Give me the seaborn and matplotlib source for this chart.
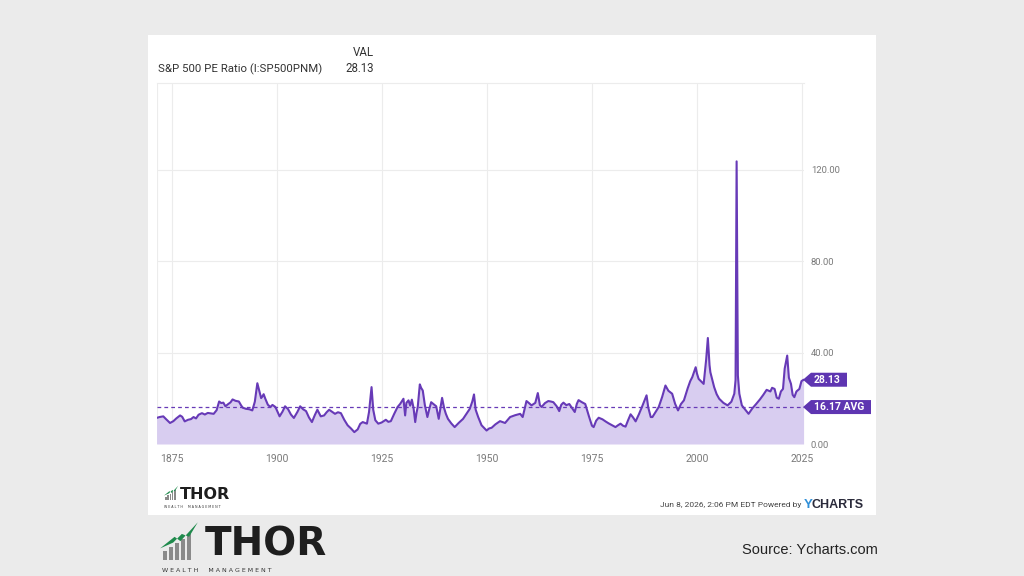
import matplotlib
matplotlib.use("Agg")
import matplotlib.pyplot as plt
import matplotlib.transforms as mtransforms
from matplotlib.patches import Rectangle, Polygon
import seaborn as sns
import pandas as pd

# ---------------- data ----------------
years = [1871.3, 1872.0, 1872.9, 1873.6, 1874.5, 1875.3, 1876.0, 1876.9, 1877.4, 1878.0,
         1878.8, 1879.5, 1880.1, 1880.7, 1881.3, 1882.1, 1882.8, 1883.5, 1884.2, 1884.9,
         1885.6, 1886.2, 1886.7, 1887.2, 1887.7, 1888.3, 1888.9, 1889.4, 1890.1, 1890.9,
         1891.4, 1891.8, 1892.6, 1893.4, 1894.1, 1894.7, 1895.3, 1895.8, 1896.2, 1896.5,
         1896.8, 1897.2, 1897.8, 1898.4, 1898.9, 1899.6, 1900.0, 1900.6, 1901.3, 1901.9,
         1902.6, 1903.3, 1904.0, 1904.8, 1905.5, 1906.2, 1906.9, 1907.6, 1908.3, 1909.0,
         1909.6, 1910.4, 1911.2, 1911.8, 1912.4, 1913.1, 1913.8, 1914.5, 1915.2, 1916.0,
         1916.8, 1917.6, 1918.4, 1919.2, 1919.8, 1920.4, 1921.4, 1921.9, 1922.5, 1922.9,
         1923.4, 1924.1, 1924.9, 1925.9, 1926.5, 1927.1, 1927.9, 1928.7, 1929.3, 1929.8,
         1930.1, 1930.5, 1930.8, 1931.3, 1931.7, 1932.1, 1932.5, 1932.9, 1933.2, 1933.5,
         1934.0, 1934.3, 1934.7, 1935.2, 1935.8, 1936.2, 1936.7, 1937.3, 1937.9, 1938.5,
         1939.3, 1939.8, 1940.2, 1940.7, 1941.5, 1942.3, 1943.3, 1944.3, 1945.1, 1945.9,
         1946.5, 1946.9, 1947.3, 1947.9, 1948.7, 1949.9, 1950.5, 1951.1, 1952.0, 1953.1,
         1954.3, 1955.5, 1956.7, 1957.9, 1958.5, 1959.4, 1960.0, 1960.6, 1961.5, 1962.1,
         1962.6, 1963.0, 1963.8, 1964.6, 1965.2, 1965.8, 1966.6, 1967.2, 1967.7, 1968.2,
         1968.9, 1969.6, 1970.3, 1970.9, 1971.4, 1971.8, 1972.6, 1973.4, 1974.3, 1975.0,
         1975.4, 1976.0, 1976.6, 1977.5, 1978.3, 1979.0, 1979.8, 1980.6, 1981.2, 1981.8,
         1982.4, 1983.0, 1983.6, 1984.2, 1984.8, 1985.4, 1986.2, 1986.9, 1987.5, 1988.0,
         1988.4, 1989.0, 1989.4, 1990.2, 1990.9, 1991.7, 1992.5, 1993.2, 1994.1, 1994.8,
         1995.5, 1996.2, 1996.9, 1997.8, 1998.4, 1998.9, 1999.7, 2000.0, 2000.4, 2001.0,
         2001.6, 2002.2, 2002.6, 2003.0, 2003.2, 2003.6, 2004.1, 2004.7, 2005.3, 2006.3,
         2007.3, 2008.2, 2008.9, 2009.2, 2009.45, 2009.75, 2010.1, 2010.7, 2011.3, 2012.3,
         2013.2, 2014.1, 2015.0, 2015.8, 2016.6, 2017.5, 2017.9, 2018.5, 2019.0, 2019.5,
         2020.0, 2020.5, 2020.9, 2021.5, 2021.9, 2022.4, 2022.8, 2023.2, 2023.7, 2024.4,
         2024.9, 2025.4]
pe_ratio = [11.4, 11.8, 12.1, 10.8, 9.2, 10.0, 11.2, 12.5, 11.9, 9.9,
            10.6, 10.9, 11.8, 11.2, 12.8, 13.5, 12.9, 13.6, 13.4, 13.2,
            14.8, 18.6, 17.9, 18.1, 16.5, 17.4, 18.2, 19.5, 18.9, 18.6,
            17.0, 15.9, 15.4, 15.2, 14.7, 18.5, 26.6, 23.0, 20.1, 20.8,
            21.8, 19.8, 17.2, 16.2, 17.1, 16.2, 14.6, 12.1, 14.2, 16.5,
            15.3, 12.9, 11.4, 13.9, 16.5, 15.2, 14.4, 11.6, 9.6, 12.7,
            15.0, 12.1, 12.5, 13.9, 15.0, 14.1, 13.2, 13.9, 13.5, 10.6,
            8.2, 6.8, 5.2, 6.4, 8.8, 9.6, 8.9, 14.0, 24.9, 15.0,
            10.4, 8.9, 9.4, 10.6, 9.7, 10.0, 13.2, 16.2, 17.5, 18.9,
            19.8, 12.5, 18.0, 19.1, 16.8, 19.4, 15.8, 9.6, 13.5, 16.2,
            26.1, 24.6, 23.4, 17.0, 11.8, 14.9, 18.3, 17.4, 16.5, 11.0,
            20.2, 15.6, 13.2, 11.0, 9.0, 7.4, 9.3, 11.0, 13.2, 15.4,
            18.6, 21.7, 15.0, 11.8, 8.2, 5.9, 6.8, 7.1, 8.6, 10.0,
            9.2, 11.8, 12.6, 13.2, 11.8, 18.8, 17.9, 16.9, 18.0, 22.3,
            17.0, 16.2, 17.9, 18.8, 18.6, 18.3, 16.5, 14.4, 17.2, 18.1,
            17.0, 17.5, 15.6, 14.0, 17.6, 19.2, 18.3, 17.5, 12.0, 8.0,
            7.4, 10.2, 11.5, 10.8, 9.8, 9.0, 8.2, 7.4, 8.2, 8.9,
            8.0, 7.6, 10.4, 13.0, 11.6, 9.9, 13.1, 16.2, 19.0, 21.3,
            16.0, 11.8, 11.8, 14.1, 16.2, 20.5, 25.6, 23.3, 22.0, 17.6,
            14.7, 17.5, 19.1, 24.4, 27.5, 29.3, 33.6, 30.9, 28.5, 27.4,
            26.3, 37.0, 46.4, 34.5, 31.4, 28.5, 24.9, 21.8, 19.8, 18.0,
            16.9, 18.5, 22.0, 28.0, 123.7, 30.0, 22.0, 16.9, 15.5, 13.2,
            15.6, 17.5, 19.5, 21.5, 23.7, 23.0, 24.6, 24.1, 20.3, 19.8,
            23.0, 24.1, 33.0, 38.7, 29.0, 26.3, 21.5, 20.5, 23.0, 24.1,
            27.5, 28.13]
latest_value = 28.13
average_value = 16.17
x_ticks = [1875, 1900, 1925, 1950, 1975, 2000, 2025]
y_ticks = [0, 40, 80, 120]
series_name = "S&P 500 PE Ratio (I:SP500PNM)"

df = pd.DataFrame({"year": years, "pe": pe_ratio})

# ---------------- styling ----------------
sns.set_theme(style="white")
plt.rcParams["font.family"] = ["Roboto", "DejaVu Sans"]

LINE = "#673ab7"
FILL = "#d8cdf0"
TAG = "#5e35b1"
GRID = "#ececec"
TICK = "#7a7a7a"

W, H = 1024, 576
fig = plt.figure(figsize=(W / 100, H / 100), dpi=100)
fig.patch.set_facecolor("#ebebeb")

# white card
card = Rectangle((148 / W, 1 - 515 / H), (876 - 148) / W, (515 - 35) / H,
                 transform=fig.transFigure, facecolor="white", edgecolor="none", zorder=-5)
fig.patches.append(card)

ax_l, ax_r, ax_t, ax_b = 157, 804, 83, 444
ax = fig.add_axes([ax_l / W, 1 - ax_b / H, (ax_r - ax_l) / W, (ax_b - ax_t) / H])
ax.set_zorder(1)
ax.set_facecolor("white")

ax.fill_between(df["year"], 0, df["pe"], color=FILL, linewidth=0, zorder=1)
sns.lineplot(data=df, x="year", y="pe", ax=ax, color=LINE, linewidth=1.5, zorder=3)
ax.axhline(average_value, color=LINE, linestyle=(0, (3, 2.5)), linewidth=0.9, zorder=2)

ax.set_xlim(1871.4, 2025.5)
ax.set_ylim(0, 158)
ax.set_xticks(x_ticks)
ax.set_xticklabels([str(t) for t in x_ticks])
ax.set_yticks(y_ticks)
ax.set_yticklabels([f"{v:.2f}" for v in y_ticks])
ax.yaxis.tick_right()
ax.tick_params(axis="x", length=0, labelsize=7.5, colors=TICK, pad=7)
ax.tick_params(axis="y", length=0, labelsize=6.8, colors=TICK, pad=5)
ax.grid(True, color=GRID, linewidth=0.8)
ax.set_axisbelow(True)
ax.set_xlabel("")
ax.set_ylabel("")
for side in ["left", "right", "bottom"]:
    ax.spines[side].set_visible(False)
ax.spines["top"].set_color(GRID)
ax.spines["top"].set_linewidth(0.8)
ax.axvline(1871.4, color=GRID, linewidth=0.8, zorder=0)

# value tags on the right
blend = mtransforms.blended_transform_factory(ax.transAxes, ax.transData)
ppx = 1.0 / (ax_r - ax_l)  # one pixel in axes fraction
dpy = 158 / (ax_b - ax_t)   # one pixel in data units


def tag(value, text, width_px):
    tip = 1.0 - 1 * ppx
    left = 1.0 + 7 * ppx
    right = left + width_px * ppx
    hh = 7 * dpy
    poly = Polygon([(tip, value), (left, value + hh), (right, value + hh),
                    (right, value - hh), (left, value - hh)], closed=True,
                   transform=blend, facecolor=TAG, edgecolor="none", clip_on=False, zorder=5)
    ax.add_patch(poly)
    ax.text(left + 3 * ppx, value, text, transform=blend, color="white", fontsize=7.5,
            fontweight="bold", ha="left", va="center", clip_on=False, zorder=6)


tag(latest_value, f"{latest_value:.2f}", 36)
tag(average_value, f"{average_value:.2f} AVG", 60)

# header
fig.text(363 / W, 1 - 52 / H, "VAL", fontsize=8.3, color="#333333", ha="center", va="center")
fig.text(158 / W, 1 - 69 / H, series_name, fontsize=8.2, color="#333333", ha="left", va="center")
fig.text(360 / W, 1 - 69 / H, f"{latest_value:.2f}", fontsize=8.3, color="#333333",
         ha="center", va="center")

# footer of card
fig.text(801 / W, 1 - 505 / H, "Jun 8, 2026, 2:06 PM EDT Powered by", fontsize=6,
         color="#444444", ha="right", va="center")
fig.text(804 / W, 1 - 505 / H, "Y", fontsize=9.5, color="#2f8fd8", fontweight="bold",
         ha="left", va="center", family=["Liberation Sans", "DejaVu Sans"])
fig.text(812 / W, 1 - 505 / H, "CHARTS", fontsize=9, color="#2a2a3a", fontweight="bold",
         ha="left", va="center", family=["Liberation Sans", "DejaVu Sans"])


def logo(x0, y0, scale, word_size, sub_size, sub_x, word_x, word_y, sub_y):
    # bars
    heights = [0.35, 0.5, 0.65, 0.8, 1.0]
    for i, h in enumerate(heights):
        fig.patches.append(Rectangle(((x0 + i * 4.2 * scale) / W, 1 - y0 / H),
                                     2.8 * scale / W, h * 18 * scale / H,
                                     transform=fig.transFigure, facecolor="#8a8a8a",
                                     edgecolor="none", zorder=2))
    pts = [(x0 - 2 * scale, y0 - 8 * scale), (x0 + 8 * scale, y0 - 16 * scale),
           (x0 + 12 * scale, y0 - 13 * scale), (x0 + 24 * scale, y0 - 26 * scale),
           (x0 + 18 * scale, y0 - 16 * scale), (x0 + 13 * scale, y0 - 18 * scale),
           (x0 + 7 * scale, y0 - 12 * scale)]
    fig.patches.append(Polygon([(px / W, 1 - py / H) for px, py in pts], closed=True,
                               transform=fig.transFigure, facecolor="#1f8a4c",
                               edgecolor="none", zorder=3))
    fig.text(word_x / W, 1 - word_y / H, "THOR", fontsize=word_size, fontweight="bold",
             color="#1e1e1e", ha="left", va="baseline", family=["DejaVu Sans"])
    fig.text(sub_x / W, 1 - sub_y / H, "W E A L T H     M A N A G E M E N T",
             fontsize=sub_size, color="#333333", ha="left", va="center",
             family=["DejaVu Sans"])


logo(165, 500, 0.55, 11.5, 2.3, 164, 180, 499, 507)
logo(163, 560, 1.45, 28, 4.5, 162, 205, 556, 570.5)

fig.text(878 / W, 1 - 550 / H, "Source: Ycharts.com", fontsize=10.5, color="#222222",
         ha="right", va="center", family=["Liberation Sans", "DejaVu Sans"])

fig.savefig("out.png", dpi=100, facecolor=fig.get_facecolor())
